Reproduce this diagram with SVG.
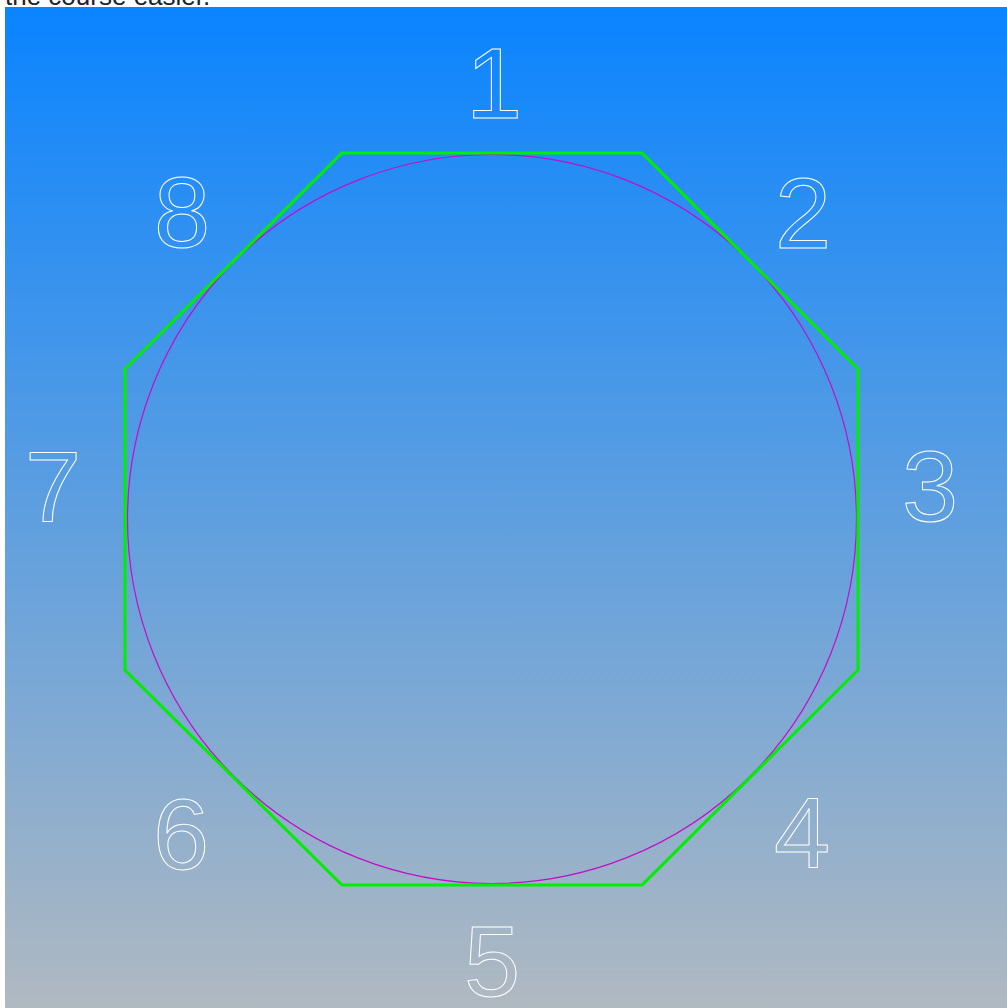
<svg xmlns="http://www.w3.org/2000/svg" width="1007" height="1008" viewBox="0 0 1007 1008">
<defs>
<linearGradient id="bg" x1="0" y1="0" x2="0" y2="1">
<stop offset="0" stop-color="#0a84ff"/>
<stop offset="1" stop-color="#b0b9c1"/>
</linearGradient>
</defs>
<style>
.num{font-family:"Liberation Sans",Arial,sans-serif;font-size:101px;fill:none;stroke:#ffffff;stroke-width:1;text-anchor:middle}
.cap{font-family:"Liberation Sans",Arial,sans-serif;font-size:26px;fill:#222222}
</style>
<rect x="0" y="0" width="1007" height="1008" fill="#ffffff"/>
<text class="cap" x="5" y="5">the course easier.</text>
<rect x="5" y="7" width="1002" height="1001" fill="url(#bg)"/>
<g id="shapes">
<circle id="circle" cx="492" cy="519" r="364.5" fill="none" stroke="#c010c8" stroke-width="1.2"/>
<polygon id="octagon" points="342,153 642,153 858,369 858,670 642,885 342,885 125,670 125,369" fill="none" stroke="#00ee00" stroke-width="3"/>
</g>
<g id="labels">
<text id="n1" class="num" x="494" y="118">1</text>
<text id="n2" class="num" x="803" y="248">2</text>
<text id="n3" class="num" x="930" y="521">3</text>
<text id="n4" class="num" x="802" y="868">4</text>
<text id="n5" class="num" x="492" y="996">5</text>
<text id="n6" class="num" x="181" y="869">6</text>
<text id="n7" class="num" x="53" y="522">7</text>
<text id="n8" class="num" x="182" y="247">8</text>
</g>
</svg>
